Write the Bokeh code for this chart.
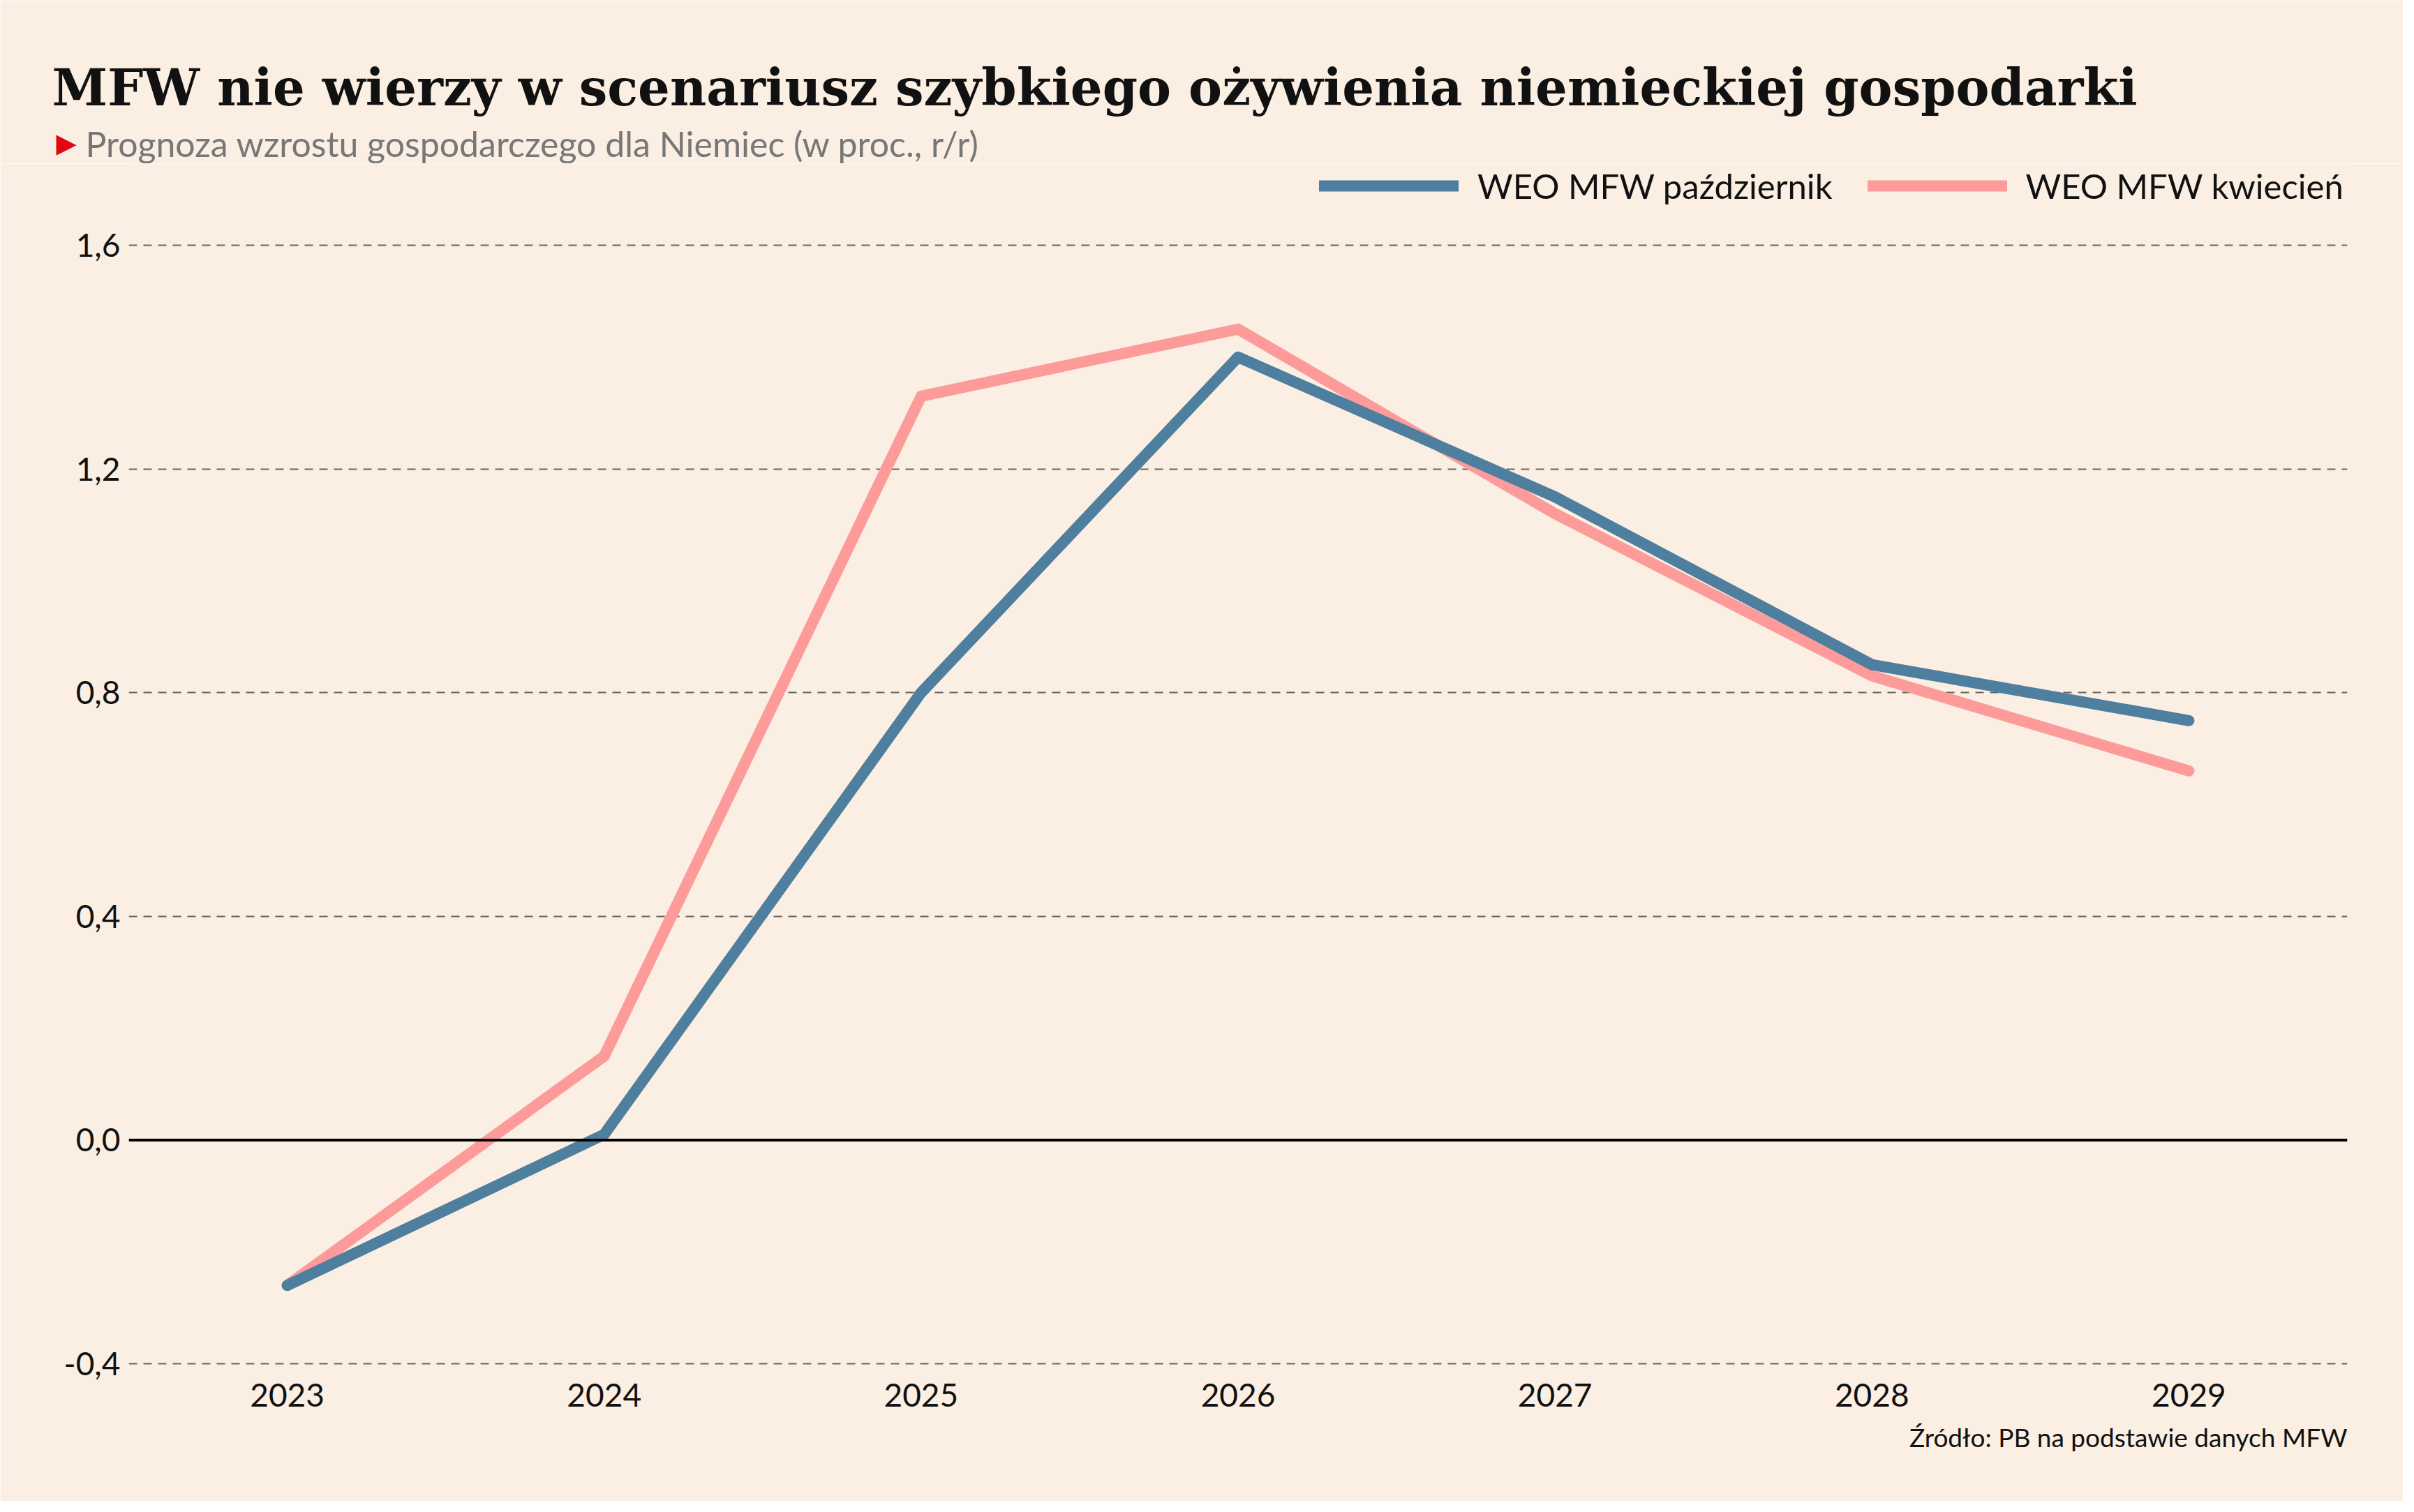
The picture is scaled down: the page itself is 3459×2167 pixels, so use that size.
from bokeh.plotting import figure
from bokeh.layouts import column
from bokeh.models import Range1d, FixedTicker, Span, Legend, LegendItem, Title, Label
from bokeh.embed import file_html
from bokeh.resources import INLINE

# ---- data ----
years = [2023, 2024, 2025, 2026, 2027, 2028, 2029]
weo_pazdziernik = [-0.26, 0.01, 0.80, 1.40, 1.15, 0.85, 0.75]
weo_kwiecien = [-0.26, 0.15, 1.33, 1.45, 1.12, 0.83, 0.66]
y_ticks = [-0.4, 0.0, 0.4, 0.8, 1.2, 1.6]
y_tick_labels = ["-0,4", "0,0", "0,4", "0,8", "1,2", "1,6"]
x_tick_labels = [str(y) for y in years]
series_names = ["WEO MFW październik", "WEO MFW kwiecień"]

title_text = "MFW nie wierzy w scenariusz szybkiego ożywienia niemieckiej gospodarki"
subtitle_text = "Prognoza wzrostu gospodarczego dla Niemiec (w proc., r/r)"
source_text = "Źródło: PB na podstawie danych MFW"

# ---- style / layout ----
BG = "#fbeee2"
BLUE = "#4e7f9e"
PINK = "#fd9b9b"
W, H = 3443, 2151
HEADER_H = 234
MAIN_H = H - HEADER_H
LEFT, RIGHT = 184, 80
FRAME_BOTTOM = 1722           # within the main figure
PX_PER_UNIT = 801.5
Y0 = -0.4 - 2 / PX_PER_UNIT
Y1 = Y0 + FRAME_BOTTOM / PX_PER_UNIT

# ---- header (title + subtitle) ----
header = figure(width=W, height=HEADER_H, output_backend="svg", toolbar_location=None,
                x_range=Range1d(0, 1), y_range=Range1d(0, 1),
                x_axis_type=None, y_axis_type=None, frame_align=False,
                min_border=0, min_border_left=0, min_border_right=0,
                min_border_top=0, min_border_bottom=0,
                background_fill_color=BG, border_fill_color=BG,
                outline_line_color=None)
header.grid.visible = False
header.add_layout(Label(x=74, y=109, x_units="screen", y_units="screen",
                        text=title_text, text_font="DejaVu Serif",
                        text_font_style="bold", text_font_size="72px",
                        text_color="#111111", text_baseline="middle"))
header.add_layout(Label(x=80, y=30, x_units="screen", y_units="screen",
                        text="\u25B6", text_font="DejaVu Sans",
                        text_font_size="38px", text_color="#e30613",
                        text_baseline="middle"))
header.add_layout(Label(x=122, y=29, x_units="screen", y_units="screen",
                        text=subtitle_text, text_font="Lato",
                        text_font_size="50px", text_color="#777777",
                        text_baseline="middle"))

# ---- main chart ----
p = figure(width=W, height=MAIN_H, output_backend="svg", toolbar_location=None,
           x_range=Range1d(2022.5, 2029.5), y_range=Range1d(Y0, Y1),
           frame_align=False,
           min_border_left=LEFT, min_border_right=RIGHT,
           min_border_top=0, min_border_bottom=MAIN_H - FRAME_BOTTOM,
           background_fill_color=BG, border_fill_color=BG,
           outline_line_color=None)

# x axis
p.xaxis.ticker = FixedTicker(ticks=years)
p.xaxis.major_label_overrides = {y: l for y, l in zip(years, x_tick_labels)}
p.xaxis.axis_line_color = None
p.xaxis.major_tick_line_color = None
p.xaxis.minor_tick_line_color = None
p.xaxis.major_label_standoff = 20
p.xaxis.major_label_text_font = "Lato"
p.xaxis.major_label_text_font_size = "46px"
p.xaxis.major_label_text_color = "#111111"
p.xgrid.grid_line_color = None

# y axis
p.yaxis.ticker = FixedTicker(ticks=y_ticks)
p.yaxis.major_label_overrides = {t: l for t, l in zip(y_ticks, y_tick_labels)}
p.yaxis.axis_line_color = None
p.yaxis.major_tick_line_color = None
p.yaxis.minor_tick_line_color = None
p.yaxis.major_label_standoff = 6
p.yaxis.major_label_text_font = "Lato"
p.yaxis.major_label_text_font_size = "46px"
p.yaxis.major_label_text_color = "#111111"
p.ygrid.ticker = FixedTicker(ticks=y_ticks)
p.ygrid.grid_line_color = "#6a6460"
p.ygrid.grid_line_width = 2
p.ygrid.grid_line_dash = "12 9"

p.add_layout(Span(location=0, dimension="width", line_color="#000000", line_width=4))

# lines
r_k = p.line(years, weo_kwiecien, line_color=PINK, line_width=16,
             line_cap="round", line_join="round")
r_p = p.line(years, weo_pazdziernik, line_color=BLUE, line_width=16,
             line_cap="round", line_join="round")

legend = Legend(items=[LegendItem(label=series_names[0], renderers=[r_p]),
                       LegendItem(label=series_names[1], renderers=[r_k])],
                orientation="horizontal", location=(1706, 1661),
                glyph_width=200, glyph_height=20, label_standoff=27, spacing=50,
                padding=0, margin=0, border_line_color=None,
                background_fill_alpha=0,
                label_text_font="Lato", label_text_font_size="49px",
                label_text_color="#111111")
p.add_layout(legend)

# source
p.add_layout(Title(text=source_text, align="right", vertical_align="top",
                   standoff=36, text_font="Lato", text_font_style="normal",
                   text_font_size="37px", text_color="#111111"), "below")

page = column(header, p, spacing=0)
open("out.html", "w").write(file_html(page, INLINE))
